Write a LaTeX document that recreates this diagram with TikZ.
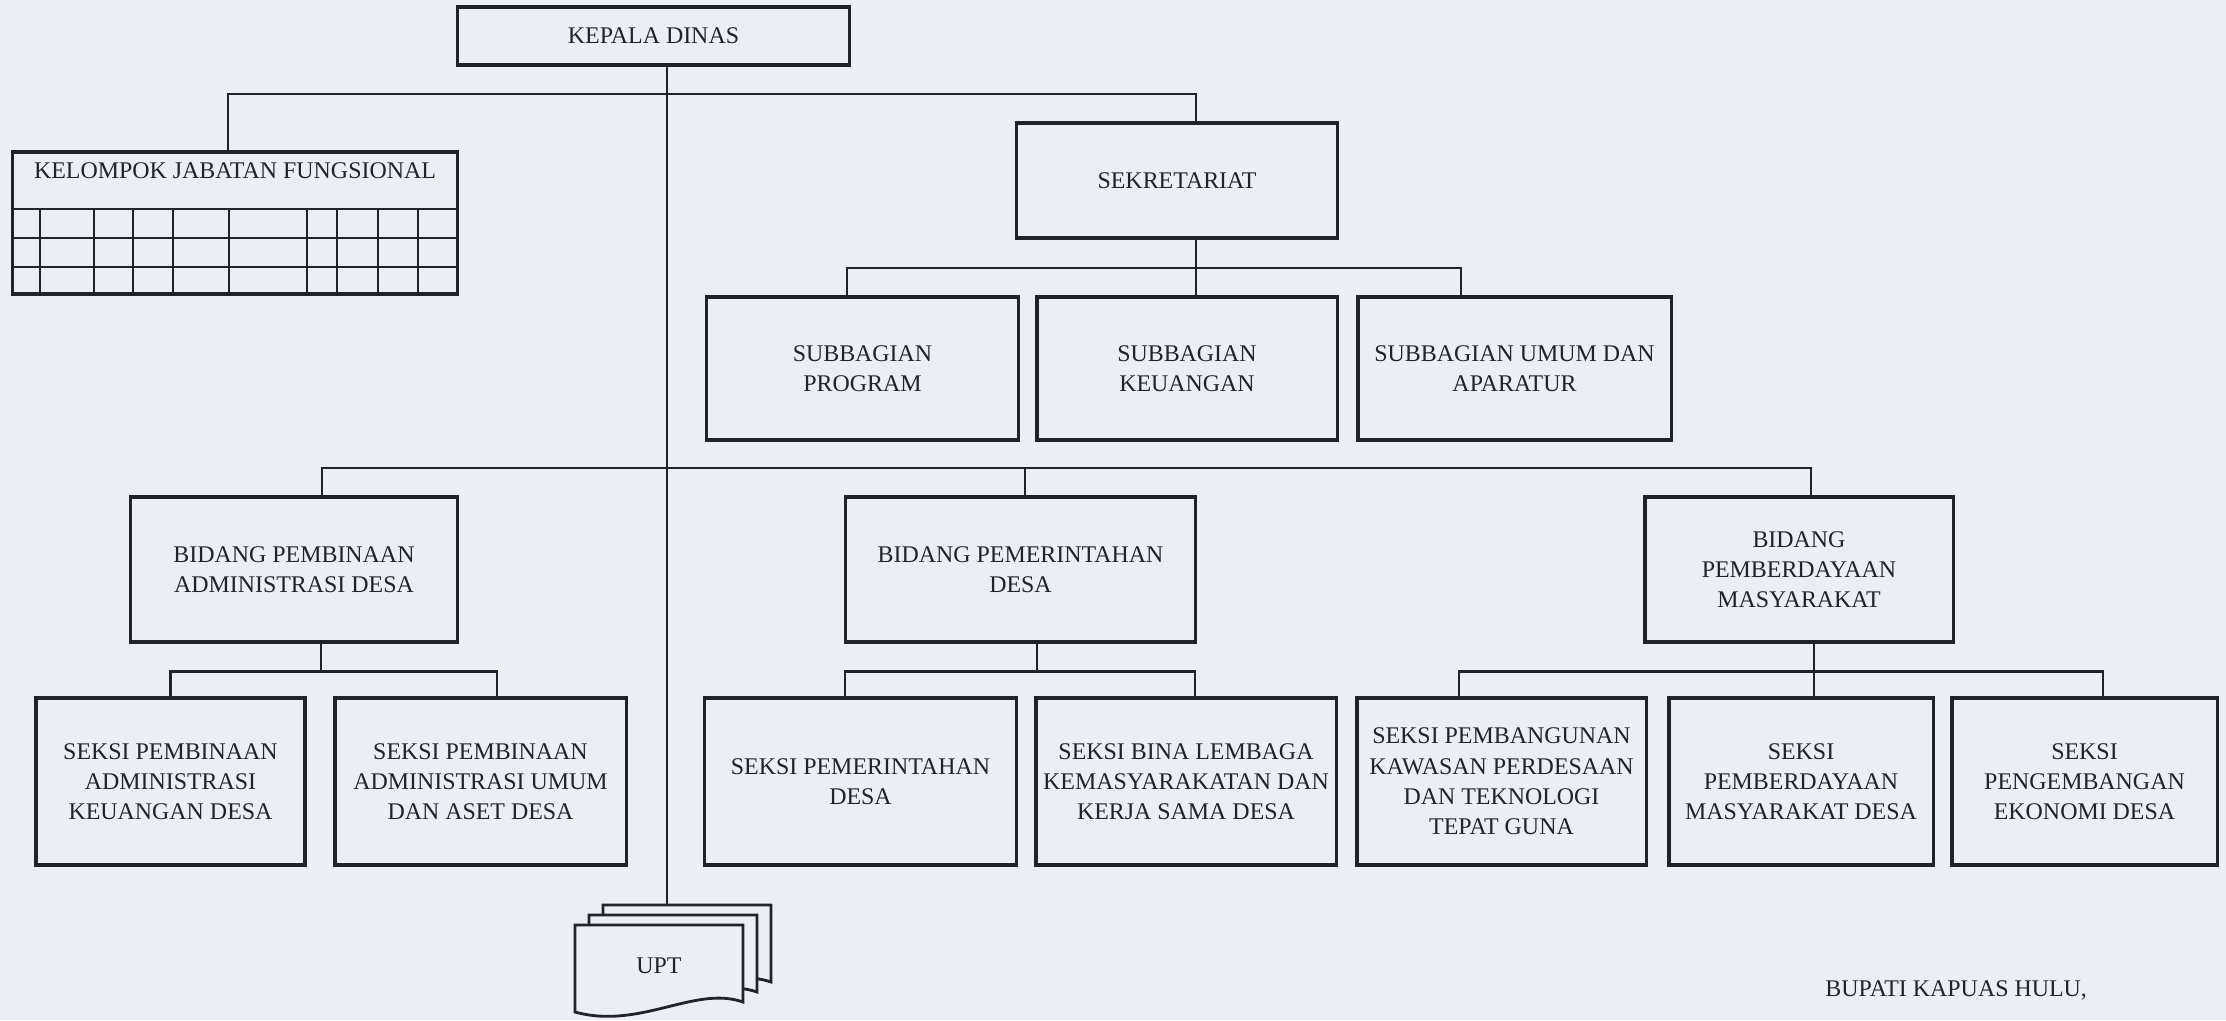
\documentclass[tikz,border=0pt]{standalone}
\usepackage{fontspec}
\setmainfont{Liberation Serif}
\definecolor{paper}{RGB}{236,238,245}
\definecolor{ink}{RGB}{34,34,42}

\begin{document}
\begin{tikzpicture}[
        x=0.01cm, y=-0.01cm,
        font=\fontsize{6.8}{8.6}\selectfont,
        unit/.style={draw=ink, line width=0.9pt, align=center, inner sep=2pt, text=ink},
        subbag/.style={unit, minimum height=1.43cm},
        bidang/.style={unit, minimum height=1.45cm},
        seksi/.style={unit, minimum height=1.67cm},
        link/.style={draw=ink, line width=0.8pt},
        sheet/.style={draw=ink, line width=0.8pt, fill=paper}
    ]
        \useasboundingbox (0,0) rectangle (2226,1020);
        \fill[paper] (0,0) rectangle (2226,1020);

        \node[unit, minimum width=3.91cm, minimum height=0.58cm] (kadis) at (653.5,36) {KEPALA DINAS};
        \node[unit, minimum width=4.44cm, minimum height=1.42cm] (kjf) at (235,223) {};
        \node[text=ink] (kjftitle) at (235,171) {KELOMPOK JABATAN FUNGSIONAL};
        \foreach \y in {209,238,267}
            \draw[link] (13,\y) -- (457,\y);
        \foreach \x in {40,94,133,173,229,307,337,378,418}
            \draw[link] (\x,209) -- (\x,294);
        \node[unit, minimum width=3.20cm, minimum height=1.15cm] (sekr) at (1177,180.5) {SEKRETARIAT};

        \node[subbag, minimum width=3.11cm] (prog) at (862.5,368.5) {SUBBAGIAN\\PROGRAM};
        \node[subbag, minimum width=3.00cm] (keu) at (1187,368.5) {SUBBAGIAN\\KEUANGAN};
        \node[subbag, minimum width=3.13cm] (umum) at (1514.5,368.5) {SUBBAGIAN UMUM DAN\\APARATUR};

        \node[bidang, minimum width=3.26cm] (bpad) at (294,569.5) {BIDANG PEMBINAAN\\ADMINISTRASI DESA};
        \node[bidang, minimum width=3.49cm] (bpd) at (1020.5,569.5) {BIDANG PEMERINTAHAN\\DESA};
        \node[bidang, minimum width=3.08cm] (bpm) at (1799,569.5) {BIDANG\\PEMBERDAYAAN\\MASYARAKAT};

        \node[seksi, minimum width=2.69cm] (spak) at (170.5,781.5) {SEKSI PEMBINAAN\\ADMINISTRASI\\KEUANGAN DESA};
        \node[seksi, minimum width=2.91cm] (spau) at (480.5,781.5) {SEKSI PEMBINAAN\\ADMINISTRASI UMUM\\DAN ASET DESA};
        \node[seksi, minimum width=3.11cm] (spd) at (860.5,781.5) {SEKSI PEMERINTAHAN\\DESA};
        \node[seksi, minimum width=3.00cm] (sblk) at (1186,781.5) {SEKSI BINA LEMBAGA\\KEMASYARAKATAN DAN\\KERJA SAMA DESA};
        \node[seksi, minimum width=2.89cm] (spkp) at (1501.5,781.5) {SEKSI PEMBANGUNAN\\KAWASAN PERDESAAN\\DAN TEKNOLOGI\\TEPAT GUNA};
        \node[seksi, minimum width=2.64cm] (spmd) at (1801,781.5) {SEKSI\\PEMBERDAYAAN\\MASYARAKAT DESA};
        \node[seksi, minimum width=2.65cm] (sped) at (2084.5,781.5) {SEKSI\\PENGEMBANGAN\\EKONOMI DESA};

        \coordinate (busA) at (667,94);
        \coordinate (busB) at (1196,268);
        \coordinate (busC) at (1025,468);
        \coordinate (upttop) at (667,905);

        \draw[link] ([xshift=-0.07cm]kjf.north) |- (busA) -| ([xshift=0.19cm]sekr.north);
        \draw[link] (kadis.south -| busA) -- (upttop);

        \draw[link] (sekr.south -| busB) -- (keu.north -| busB);
        \draw[link] ([xshift=-0.155cm]prog.north) |- (busB) -| ([xshift=-0.535cm]umum.north);

        \draw[link] ([xshift=0.28cm]bpad.north) |- (busC) -| ([xshift=0.12cm]bpm.north);
        \draw[link] (busC) -- (bpd.north -| busC);

        \draw[link] ([xshift=0.27cm]bpad.south) -- ++(0,28) coordinate (busD);
        \draw[link] (spak.north) |- (busD) -| ([xshift=0.165cm]spau.north);
        \draw[link] ([xshift=0.165cm]bpd.south) -- ++(0,28) coordinate (busE);
        \draw[link] ([xshift=-0.155cm]spd.north) |- (busE) -| ([xshift=0.09cm]sblk.north);
        \draw[link] ([xshift=0.15cm]bpm.south) -- ++(0,28) coordinate (busF);
        \draw[link] ([xshift=-0.425cm]spkp.north) |- (busF) -| ([xshift=0.185cm]sped.north);
        \draw[link] (busF) -- (spmd.north -| busF);

        \foreach \d in {2,1,0}
            \draw[sheet, shift={(14*\d,-10*\d)}] (575,925) -- (743,925) -- (743,1002)
                .. controls (695,985) and (640,1030) .. (575,1012) -- cycle;
        \node[text=ink] (upt) at (659,966) {UPT};

        \node[text=ink, anchor=west] (bupati) at (1813,990) {BUPATI KAPUAS HULU,};
    \end{tikzpicture}
\end{document}
